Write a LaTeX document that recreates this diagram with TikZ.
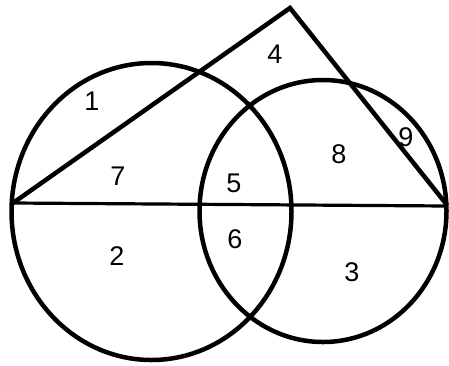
\documentclass[tikz,border=0pt]{standalone}
\usepackage{fontspec}
\setmainfont{Liberation Sans}
\begin{document}
\begin{tikzpicture}[x=1pt,y=-1pt,
  shape line/.style={line width=4.5pt, line join=miter},
  base line/.style={line width=3.2pt},
  region/.style={font=\fontsize{27}{27}\selectfont, inner sep=0pt, anchor=center}]
\useasboundingbox (0,0) rectangle (449,365);
% circle centres
\coordinate (cl) at (151.5,211.5);
\coordinate (cr) at (323,211);
% triangle vertices
\coordinate (ta) at (13,203);
\coordinate (tb) at (290,8);
\coordinate (tc) at (447,205);
\coordinate (td) at (447,206);
\draw[shape line] (cl) ellipse [x radius=140, y radius=148.5];
\draw[shape line] (cr) ellipse [x radius=123.5, y radius=131];
\draw[shape line] (ta) -- (tb) -- (tc);
\draw[base line] (ta) -- (td);
\node[region] (n1) at (92,101) {1};
\node[region] (n4) at (275,54) {4};
\node[region] (n7) at (118,176) {7};
\node[region] (n5) at (234,183) {5};
\node[region] (n8) at (339,154) {8};
\node[region] (n9) at (406,137) {9};
\node[region] (n2) at (117,256) {2};
\node[region] (n6) at (235,239) {6};
\node[region] (n3) at (352,272) {3};
\end{tikzpicture}
\end{document}
